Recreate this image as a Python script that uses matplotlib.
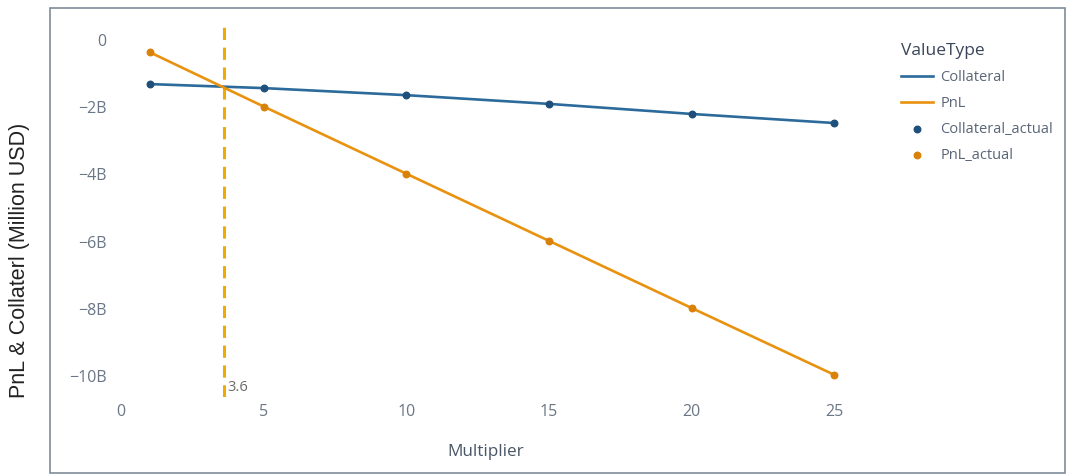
import matplotlib
matplotlib.use("Agg")
from matplotlib import pyplot as plt
from matplotlib.patches import Rectangle
from matplotlib.ticker import FuncFormatter

# data (values in billions)
multiplier = [1, 5, 10, 15, 20, 25]
collateral = [-1.31, -1.43, -1.64, -1.90, -2.20, -2.47]
pnl = [-0.36, -1.98, -3.98, -5.98, -7.98, -9.97]
breakeven = 3.6

blue = "#2b6a9a"
orange = "#e8920f"
blue_dot = "#1f4f7a"
orange_dot = "#d9820a"
tick_col = "#6a7686"

plt.rcParams["font.family"] = ["Open Sans", "DejaVu Sans"]

fig = plt.figure(figsize=(10.67, 4.75), dpi=100)
# frame around the whole chart
fig.patches.append(Rectangle((50 / 1067, 2 / 475), 1015 / 1067, 465 / 475,
                             transform=fig.transFigure, fill=False,
                             edgecolor="#7f8c9c", linewidth=1.2))

ax = fig.add_axes([112 / 1067, 78 / 475, 748 / 1067, 370 / 475])

ax.plot(multiplier, collateral, color=blue, lw=1.9, label="Collateral", zorder=3)
ax.plot(multiplier, pnl, color=orange, lw=1.9, label="PnL", zorder=3)
ax.scatter(multiplier, collateral, color=blue_dot, s=22, label="Collateral_actual", zorder=4)
ax.scatter(multiplier, pnl, color=orange_dot, s=22, label="PnL_actual", zorder=4)

ax.axvline(breakeven, color="#f0ab00", lw=2.2, ls=(0, (4, 2.5)), zorder=2)
ax.text(breakeven + 0.12, -10.35, "3.6", color="#6a6a6a", fontsize=10.5, ha="left", va="center")

ax.set_xlim(-0.32, 25.9)
ax.set_ylim(-10.63, 0.39)
ax.set_xticks([0, 5, 10, 15, 20, 25])
ax.set_yticks([0, -2, -4, -6, -8, -10])
ax.yaxis.set_major_formatter(FuncFormatter(lambda v, p: "0" if v == 0 else "\u2212%dB" % abs(v)))

for s in ax.spines.values():
    s.set_visible(False)
ax.tick_params(length=0, colors=tick_col, labelsize=11.5)
ax.tick_params(axis="x", pad=5)
ax.tick_params(axis="y", pad=4)

ax.set_xlabel("Multiplier", color="#4a5668", fontsize=12.3, labelpad=17)
fig.text(20 / 1067, 1 - 260 / 475, "PnL & Collaterl (Million USD)", rotation=90,
         ha="center", va="center", fontsize=15.5, family="Liberation Sans", color="#222222")

leg = ax.legend(loc="upper left", bbox_to_anchor=(888 / 1067, 1 - 30 / 475),
                bbox_transform=fig.transFigure, frameon=False, title="ValueType",
                fontsize=10.5, title_fontsize=12.5, labelspacing=0.75, handlelength=2.2,
                handletextpad=0.5, alignment="left", labelcolor="#5a6678")
leg.get_title().set_color("#3a4658")

fig.savefig("out.png", dpi=100)
